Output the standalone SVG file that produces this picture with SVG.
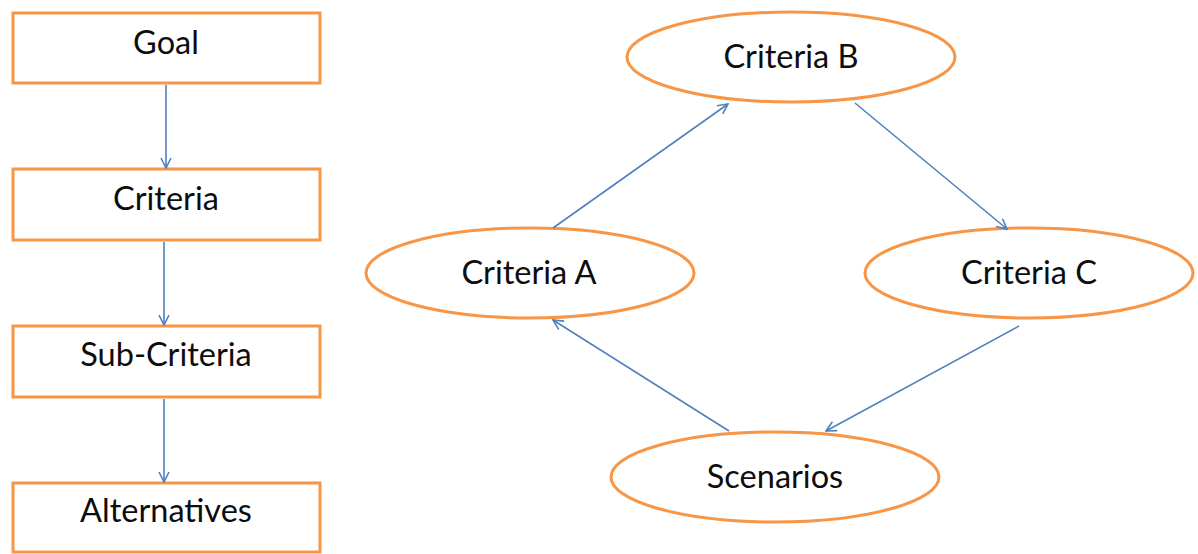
<svg xmlns="http://www.w3.org/2000/svg" width="1198" height="554" viewBox="0 0 1198 554">
  <style>
    .box { fill: #ffffff; stroke: #F79646; stroke-width: 3; }
    .oval { fill: #ffffff; stroke: #F79646; stroke-width: 3; }
    .lbl { font-family: Lato, "Liberation Sans", sans-serif; font-size: 32.5px; fill: #0d0d0d; text-anchor: middle; }
    .link { fill: none; stroke: #4F81BD; stroke-width: 1.6; marker-end: url(#open); }
  </style>
  <defs>
    <marker id="open" viewBox="0 0 12 12" refX="11" refY="6" markerWidth="12" markerHeight="12" markerUnits="userSpaceOnUse" orient="auto">
      <path d="M1,1 L11,6 L1,11" fill="none" stroke="#4F81BD" stroke-width="1.6"/>
    </marker>
  </defs>
  <rect width="1198" height="554" fill="#ffffff"/>

  <!-- hierarchy column -->
  <g id="goal"><rect class="box" x="13" y="13" width="307" height="70"/><text class="lbl" x="166" y="54">Goal</text></g>
  <g id="criteria"><rect class="box" x="13" y="169" width="307" height="71"/><text class="lbl" x="166" y="210">Criteria</text></g>
  <g id="sub-criteria"><rect class="box" x="13" y="326" width="307" height="71"/><text class="lbl" x="166" y="366">Sub-Criteria</text></g>
  <g id="alternatives"><rect class="box" x="13" y="483" width="307" height="69"/><text class="lbl" x="166" y="522">Alternatives</text></g>

  <!-- cycle of criteria and scenarios -->
  <g id="criteria-b"><ellipse class="oval" cx="791" cy="57" rx="164" ry="45"/><text class="lbl" x="791" y="68">Criteria  B</text></g>
  <g id="criteria-a"><ellipse class="oval" cx="530" cy="273" rx="164" ry="45"/><text class="lbl" x="529" y="284">Criteria  A</text></g>
  <g id="criteria-c"><ellipse class="oval" cx="1029" cy="273" rx="164" ry="45"/><text class="lbl" x="1029" y="284">Criteria  C</text></g>
  <g id="scenarios"><ellipse class="oval" cx="775" cy="477" rx="164" ry="45"/><text class="lbl" x="775" y="488">Scenarios</text></g>

  <g id="connectors">
    <line class="link" x1="166" y1="85" x2="166" y2="168"/>
    <line class="link" x1="164" y1="242" x2="164" y2="325"/>
    <line class="link" x1="164" y1="399" x2="164" y2="482"/>
    <line class="link" x1="553" y1="228" x2="728" y2="104"/>
    <line class="link" x1="855" y1="103" x2="1007" y2="229"/>
    <line class="link" x1="1019" y1="326" x2="826" y2="431"/>
    <line class="link" x1="729" y1="431" x2="553" y2="320"/>
  </g>
</svg>
